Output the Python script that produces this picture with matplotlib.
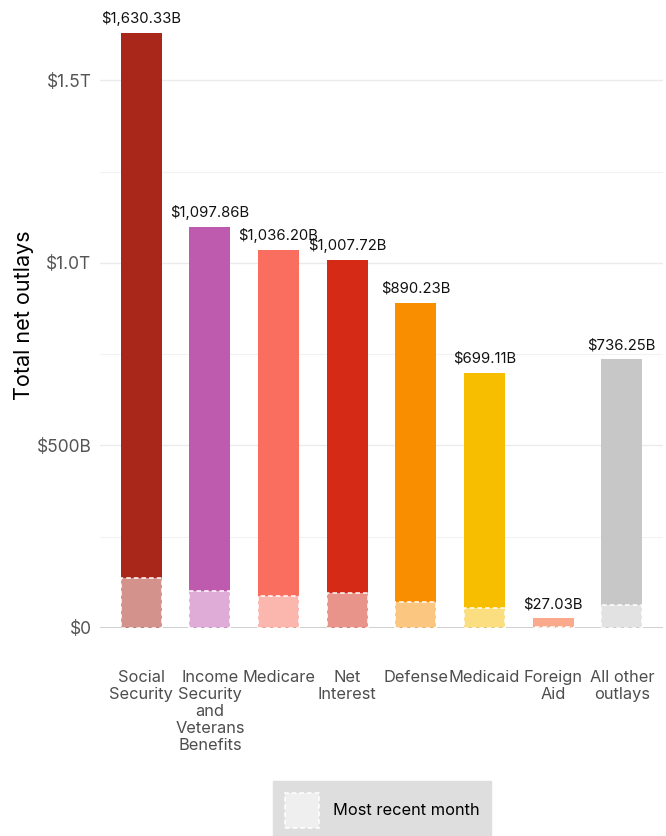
import matplotlib.pyplot as plt
from matplotlib.patches import Patch
from matplotlib.ticker import FuncFormatter, MultipleLocator
from matplotlib.colors import to_rgba
import numpy as np

categories = ["Social\nSecurity", "Income\nSecurity\nand\nVeterans\nBenefits", "Medicare",
              "Net\nInterest", "Defense", "Medicaid", "Foreign\nAid", "All other\noutlays"]
totals = [1630.33, 1097.86, 1036.20, 1007.72, 890.23, 699.11, 27.03, 736.25]  # $B
recent = [137, 102, 88, 95, 72, 56, 3, 62]  # most recent month, $B
colors = ["#A8261A", "#BE5BAF", "#F96E5F", "#D42A16", "#F98E00", "#F7BE00", "#FBA98D", "#C7C7C7"]

plt.rcParams['font.family'] = ['Inter', 'DejaVu Sans']

fig = plt.figure(figsize=(6.66, 8.36), dpi=100)
ax = fig.add_axes([100/666, 208/836, 563/666, 625/836])

x = np.arange(len(categories))
tot = np.array(totals) * 1e9
rec = np.array(recent) * 1e9
w = 0.6

for i in range(len(x)):
    ax.bar(x[i], tot[i] - rec[i], bottom=rec[i], width=w, color=colors[i], linewidth=0, zorder=2)
    ax.bar(x[i], rec[i], width=w, color=to_rgba(colors[i], 0.5), edgecolor="white",
           linestyle=(0, (3, 2)), linewidth=1.1, zorder=3)
    ax.annotate("${:,.2f}B".format(totals[i]), (x[i], tot[i]), xytext=(0, 5),
                textcoords="offset points", ha="center", va="bottom", fontsize=10.7, color="#111111")

ax.set_xlim(-0.6, len(x) - 0.4)
ax.set_ylim(0, 1.7115e12)

def fmt(v, pos):
    if v == 0:
        return "$0"
    if v >= 1e12:
        return "${:.1f}T".format(v / 1e12)
    return "${:.0f}B".format(v / 1e9)

ax.yaxis.set_major_locator(MultipleLocator(5e11))
ax.yaxis.set_minor_locator(MultipleLocator(2.5e11))
ax.yaxis.set_major_formatter(FuncFormatter(fmt))
ax.grid(axis="y", which="major", color="#EBEBEB", linewidth=1, zorder=0)
ax.grid(axis="y", which="minor", color="#F2F2F2", linewidth=0.8, zorder=0)
ax.set_axisbelow(True)
ax.axhline(0, color="#C8C8C8", linewidth=1.2, zorder=1)

for s in ax.spines.values():
    s.set_visible(False)

ax.set_xticks(x)
ax.set_xticklabels(categories, fontsize=11.8, color="#4D4D4D", linespacing=1.17)
ax.tick_params(axis="x", length=0, pad=30)
ax.tick_params(axis="y", which="both", length=0, pad=6, labelsize=12.5, labelcolor="#555555")
ax.set_ylabel("Total net outlays", fontsize=15.5, color="black", labelpad=2)

handle = Patch(facecolor="#EFEFEF", edgecolor="white", linestyle=(0, (3, 2)), linewidth=1.1)
leg = fig.legend([handle], ["Most recent month"], loc="upper center",
                 bbox_to_anchor=(382/666, 55/836), fontsize=11.8, frameon=True,
                 fancybox=False, handlelength=2.07, handleheight=2.9, borderpad=0.73,
                 handletextpad=0.85, borderaxespad=0)
leg.get_frame().set_facecolor("#DEDEDE")
leg.get_frame().set_edgecolor("#DEDEDE")
leg.get_frame().set_alpha(1)

fig.savefig("out.png", dpi=100)
